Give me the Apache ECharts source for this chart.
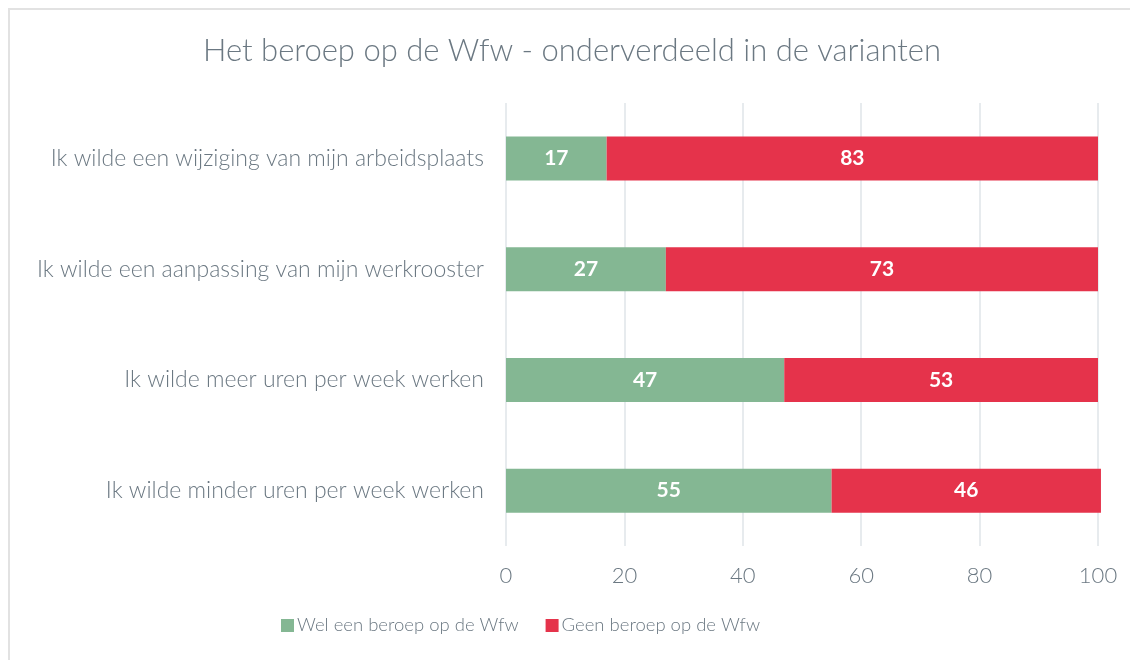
<!DOCTYPE html>
<html>
<head>
<meta charset="utf-8">
<script src="https://cdn.jsdelivr.net/npm/echarts@6/dist/echarts.min.js"></script>
<style>
  html, body { margin: 0; padding: 0; background: #fff; }
  #chart { width: 1130px; height: 660px; }
</style>
</head>
<body>
<div id="chart"></div>
<script>
// categories (top to bottom in the picture)
var categories = [
    'Ik wilde een wijziging van mijn arbeidsplaats',
    'Ik wilde een aanpassing van mijn werkrooster',
    'Ik wilde meer uren per week werken',
    'Ik wilde minder uren per week werken'
];
var welBeroep = [17, 27, 47, 55];
var geenBeroep = [83, 73, 53, 45.5];
var seriesNames = ['Wel een beroep op de Wfw', 'Geen beroep op de Wfw'];

var textColor = '#6b7882';
var fontName = 'Lato';

var chart = echarts.init(document.getElementById('chart'));

function barLabel() {
    return {
        show: true,
        position: 'inside',
        color: '#fff',
        fontSize: 21,
        fontWeight: 'bold',
        fontFamily: fontName,
        formatter: function (p) {
            return Math.round(p.value);
        }
    };
}

var option = {
    animation: false,
    backgroundColor: '#fff',
    title: {
        text: 'Het beroep op de Wfw - onderverdeeld in de varianten',
        left: 198,
        top: 30,
        textStyle: {
            color: textColor,
            fontSize: 31,
            fontWeight: 300,
            fontFamily: fontName
        }
    },
    legend: {
        bottom: 20,
        left: 276,
        itemWidth: 13,
        itemHeight: 13,
        itemGap: 27,
        icon: 'rect',
        selectedMode: false,
        textStyle: {
            color: textColor,
            fontSize: 18.5,
            fontWeight: 300,
            fontFamily: fontName,
            padding: [0, 0, 0, -2]
        },
        data: seriesNames
    },
    grid: {
        left: 506,
        right: 32,
        top: 103,
        bottom: 114
    },
    xAxis: {
        type: 'value',
        min: 0,
        max: 100,
        interval: 20,
        axisLine: { show: false },
        axisTick: { show: false },
        splitLine: {
            lineStyle: { color: '#dfe4e8', width: 1.5 }
        },
        axisLabel: {
            color: textColor,
            fontSize: 22,
            fontWeight: 300,
            fontFamily: fontName,
            margin: 19
        }
    },
    yAxis: {
        type: 'category',
        inverse: true,
        data: categories,
        axisLine: { show: false },
        axisTick: { show: false },
        axisLabel: {
            color: textColor,
            fontSize: 23,
            fontWeight: 300,
            fontFamily: fontName,
            margin: 22
        }
    },
    series: [
        {
            name: seriesNames[0],
            type: 'bar',
            stack: 'total',
            barWidth: 44,
            clip: false,
            data: welBeroep,
            itemStyle: { color: '#84b793' },
            label: barLabel()
        },
        {
            name: seriesNames[1],
            type: 'bar',
            stack: 'total',
            barWidth: 44,
            clip: false,
            data: geenBeroep,
            itemStyle: { color: '#e5334b' },
            label: barLabel()
        }
    ],
    graphic: [
        {
            type: 'line',
            shape: { x1: 8, y1: 9, x2: 1130, y2: 9 },
            style: { stroke: '#e2e2e2', lineWidth: 2 }
        },
        {
            type: 'line',
            shape: { x1: 9, y1: 8, x2: 9, y2: 660 },
            style: { stroke: '#e2e2e2', lineWidth: 2 }
        }
    ]
};

chart.setOption(option);
</script>
</body>
</html>
